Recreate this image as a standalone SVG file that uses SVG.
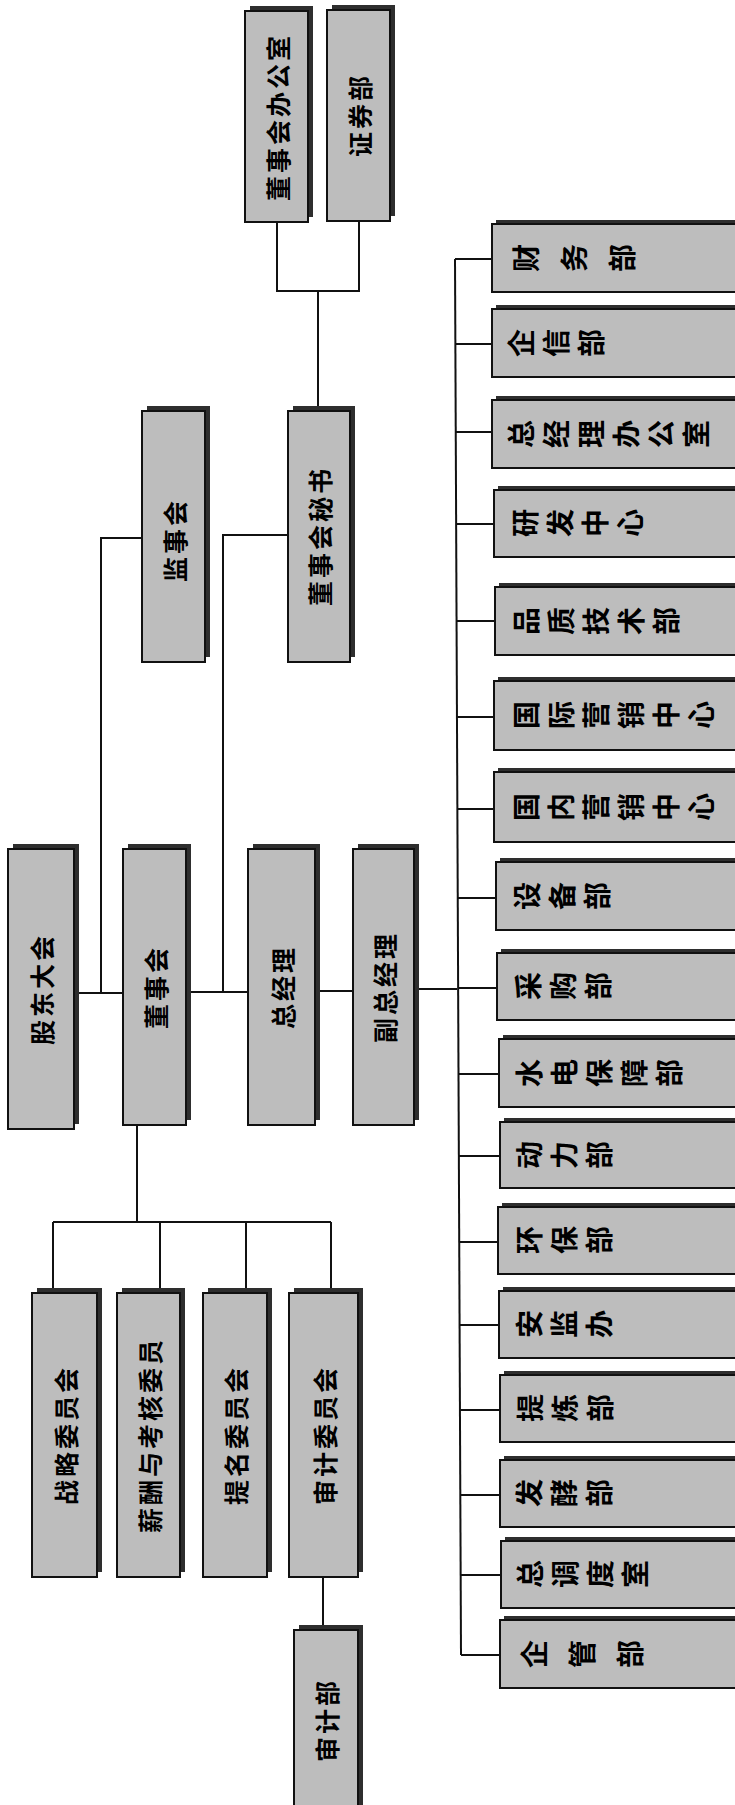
<svg xmlns="http://www.w3.org/2000/svg" width="735" height="1805" viewBox="0 0 735 1805">
<style>
.bg{fill:#ffffff}
.box{fill:#bdbdbd;stroke:#111111;stroke-width:2}
.sh{fill:#2e2e2e}
.ln{fill:none;stroke:#111111;stroke-width:2}
.lt{font-family:"Noto Sans CJK SC","Noto Sans",sans-serif;font-weight:700;font-size:25px;fill:#000000;text-anchor:middle;dominant-baseline:central;letter-spacing:3px}
.dt{font-family:"Noto Sans CJK SC","Noto Sans",sans-serif;font-weight:700;font-size:28px;fill:#000000;writing-mode:vertical-rl;letter-spacing:7px}
</style>
<rect class="bg" x="0" y="0" width="735" height="1805"/>

<g id="connectors">
<polyline class="ln" points="277,222 277,291 359,291 359,221"/>
<line class="ln" x1="318" y1="291" x2="318" y2="411"/>
<polyline class="ln" points="142,538 101,538 101,993"/>
<polyline class="ln" points="288,535 223,535 223,992"/>
<line class="ln" x1="74" y1="993" x2="123" y2="993"/>
<line class="ln" x1="186" y1="992" x2="248" y2="992"/>
<line class="ln" x1="315" y1="991" x2="353" y2="991"/>
<line class="ln" x1="414" y1="989" x2="457" y2="989"/>
<line class="ln" x1="137" y1="1125" x2="137" y2="1222"/>
<line class="ln" x1="53" y1="1222" x2="331" y2="1222"/>
<line class="ln" x1="53" y1="1222" x2="53" y2="1293"/>
<line class="ln" x1="160" y1="1222" x2="160" y2="1293"/>
<line class="ln" x1="246" y1="1222" x2="246" y2="1293"/>
<line class="ln" x1="331" y1="1222" x2="331" y2="1293"/>
<line class="ln" x1="323" y1="1577" x2="323" y2="1630"/>
<line class="ln" x1="455" y1="259" x2="461" y2="1655"/>
<line class="ln" x1="455" y1="259" x2="492" y2="259"/>
<line class="ln" x1="455" y1="344" x2="492" y2="344"/>
<line class="ln" x1="456" y1="432" x2="492" y2="432"/>
<line class="ln" x1="456" y1="524" x2="494" y2="524"/>
<line class="ln" x1="456" y1="621" x2="495" y2="621"/>
<line class="ln" x1="457" y1="717" x2="494" y2="717"/>
<line class="ln" x1="457" y1="809" x2="494" y2="809"/>
<line class="ln" x1="458" y1="898" x2="496" y2="898"/>
<line class="ln" x1="458" y1="988" x2="497" y2="988"/>
<line class="ln" x1="459" y1="1074" x2="499" y2="1074"/>
<line class="ln" x1="459" y1="1156" x2="500" y2="1156"/>
<line class="ln" x1="459" y1="1242" x2="498" y2="1242"/>
<line class="ln" x1="460" y1="1325" x2="499" y2="1325"/>
<line class="ln" x1="460" y1="1410" x2="500" y2="1410"/>
<line class="ln" x1="460" y1="1495" x2="500" y2="1495"/>
<line class="ln" x1="461" y1="1575" x2="501" y2="1575"/>
<line class="ln" x1="461" y1="1655" x2="500" y2="1655"/>
</g>

<g id="n-dshbgs"><rect class="sh" x="250" y="6" width="63" height="211"/><rect class="box" x="245" y="11" width="63" height="211"/><text class="lt" x="277" y="117" transform="rotate(-90 277 117)">董事会办公室</text></g>
<g id="n-zqb"><rect class="sh" x="332" y="5" width="63" height="211"/><rect class="box" x="327" y="10" width="63" height="211"/><text class="lt" x="359" y="115" transform="rotate(-90 359 115)">证券部</text></g>
<g id="n-jsh"><rect class="sh" x="147" y="406" width="63" height="251"/><rect class="box" x="142" y="411" width="63" height="251"/><text class="lt" x="174" y="540" transform="rotate(-90 174 540)">监事会</text></g>
<g id="n-dshms"><rect class="sh" x="293" y="406" width="62" height="251"/><rect class="box" x="288" y="411" width="62" height="251"/><text class="lt" x="319" y="536" transform="rotate(-90 319 536)">董事会秘书</text></g>
<g id="n-gddh"><rect class="sh" x="13" y="844" width="66" height="280"/><rect class="box" x="8" y="849" width="66" height="280"/><text class="lt" x="41" y="989" transform="rotate(-90 41 989)">股东大会</text></g>
<g id="n-dsh"><rect class="sh" x="128" y="844" width="63" height="276"/><rect class="box" x="123" y="849" width="63" height="276"/><text class="lt" x="155" y="987" transform="rotate(-90 155 987)">董事会</text></g>
<g id="n-zjl"><rect class="sh" x="253" y="844" width="67" height="276"/><rect class="box" x="248" y="849" width="67" height="276"/><text class="lt" x="282" y="987" transform="rotate(-90 282 987)">总经理</text></g>
<g id="n-fzjl"><rect class="sh" x="358" y="844" width="61" height="276"/><rect class="box" x="353" y="849" width="61" height="276"/><text class="lt" x="384" y="987" transform="rotate(-90 384 987)">副总经理</text></g>
<g id="n-zlwyh"><rect class="sh" x="37" y="1288" width="65" height="284"/><rect class="box" x="32" y="1293" width="65" height="284"/><text class="lt" x="65" y="1435" transform="rotate(-90 65 1435)">战略委员会</text></g>
<g id="n-xcykh"><rect class="sh" x="122" y="1288" width="63" height="284"/><rect class="box" x="117" y="1293" width="63" height="284"/><text class="lt" x="149" y="1435" transform="rotate(-90 149 1435)">薪酬与考核委员</text></g>
<g id="n-tmwyh"><rect class="sh" x="208" y="1288" width="64" height="284"/><rect class="box" x="203" y="1293" width="64" height="284"/><text class="lt" x="235" y="1435" transform="rotate(-90 235 1435)">提名委员会</text></g>
<g id="n-sjwyh"><rect class="sh" x="294" y="1288" width="69" height="284"/><rect class="box" x="289" y="1293" width="69" height="284"/><text class="lt" x="324" y="1435" transform="rotate(-90 324 1435)">审计委员会</text></g>
<g id="n-sjb"><rect class="sh" x="299" y="1625" width="64" height="200"/><rect class="box" x="294" y="1630" width="64" height="200"/><text class="lt" x="326" y="1720" transform="rotate(-90 326 1720)">审计部</text></g>

<g id="n-cwb"><rect class="sh" x="496" y="220" width="270" height="68"/><rect class="box" x="492" y="224" width="270" height="68"/><text class="dt" x="512" y="258" transform="rotate(-90 512 258)">财 务 部</text></g>
<g id="n-qxb"><rect class="sh" x="496" y="305" width="270" height="68"/><rect class="box" x="492" y="309" width="270" height="68"/><text class="dt" x="507" y="343" transform="rotate(-90 507 343)">企信部</text></g>
<g id="n-zjlbgs"><rect class="sh" x="496" y="396" width="270" height="68"/><rect class="box" x="492" y="400" width="270" height="68"/><text class="dt" x="507" y="434" transform="rotate(-90 507 434)">总经理办公室</text></g>
<g id="n-yfzx"><rect class="sh" x="498" y="486" width="270" height="67"/><rect class="box" x="494" y="490" width="270" height="67"/><text class="dt" x="511" y="523" transform="rotate(-90 511 523)">研发中心</text></g>
<g id="n-pzjsb"><rect class="sh" x="499" y="583" width="270" height="68"/><rect class="box" x="495" y="587" width="270" height="68"/><text class="dt" x="512" y="621" transform="rotate(-90 512 621)">品质技术部</text></g>
<g id="n-gjyx"><rect class="sh" x="498" y="677" width="270" height="69"/><rect class="box" x="494" y="681" width="270" height="69"/><text class="dt" x="512" y="715" transform="rotate(-90 512 715)">国际营销中心</text></g>
<g id="n-gnyx"><rect class="sh" x="498" y="768" width="270" height="70"/><rect class="box" x="494" y="772" width="270" height="70"/><text class="dt" x="512" y="807" transform="rotate(-90 512 807)">国内营销中心</text></g>
<g id="n-sbb"><rect class="sh" x="500" y="858" width="270" height="68"/><rect class="box" x="496" y="862" width="270" height="68"/><text class="dt" x="513" y="896" transform="rotate(-90 513 896)">设备部</text></g>
<g id="n-cgb"><rect class="sh" x="501" y="949" width="270" height="67"/><rect class="box" x="497" y="953" width="270" height="67"/><text class="dt" x="514" y="986" transform="rotate(-90 514 986)">采购部</text></g>
<g id="n-sdbzb"><rect class="sh" x="503" y="1035" width="270" height="68"/><rect class="box" x="499" y="1039" width="270" height="68"/><text class="dt" x="515" y="1073" transform="rotate(-90 515 1073)">水电保障部</text></g>
<g id="n-dlb"><rect class="sh" x="504" y="1118" width="270" height="66"/><rect class="box" x="500" y="1122" width="270" height="66"/><text class="dt" x="515" y="1155" transform="rotate(-90 515 1155)">动力部</text></g>
<g id="n-hbb"><rect class="sh" x="502" y="1203" width="270" height="67"/><rect class="box" x="498" y="1207" width="270" height="67"/><text class="dt" x="515" y="1240" transform="rotate(-90 515 1240)">环保部</text></g>
<g id="n-ajb"><rect class="sh" x="503" y="1287" width="270" height="67"/><rect class="box" x="499" y="1291" width="270" height="67"/><text class="dt" x="515" y="1324" transform="rotate(-90 515 1324)">安监办</text></g>
<g id="n-tlb"><rect class="sh" x="504" y="1371" width="270" height="67"/><rect class="box" x="500" y="1375" width="270" height="67"/><text class="dt" x="516" y="1408" transform="rotate(-90 516 1408)">提炼部</text></g>
<g id="n-fjb"><rect class="sh" x="504" y="1456" width="270" height="67"/><rect class="box" x="500" y="1460" width="270" height="67"/><text class="dt" x="515" y="1493" transform="rotate(-90 515 1493)">发酵部</text></g>
<g id="n-zdds"><rect class="sh" x="505" y="1537" width="270" height="67"/><rect class="box" x="501" y="1541" width="270" height="67"/><text class="dt" x="516" y="1574" transform="rotate(-90 516 1574)">总调度室</text></g>
<g id="n-qgb"><rect class="sh" x="504" y="1616" width="270" height="68"/><rect class="box" x="500" y="1620" width="270" height="68"/><text class="dt" x="520" y="1654" transform="rotate(-90 520 1654)">企 管 部</text></g>
</svg>
